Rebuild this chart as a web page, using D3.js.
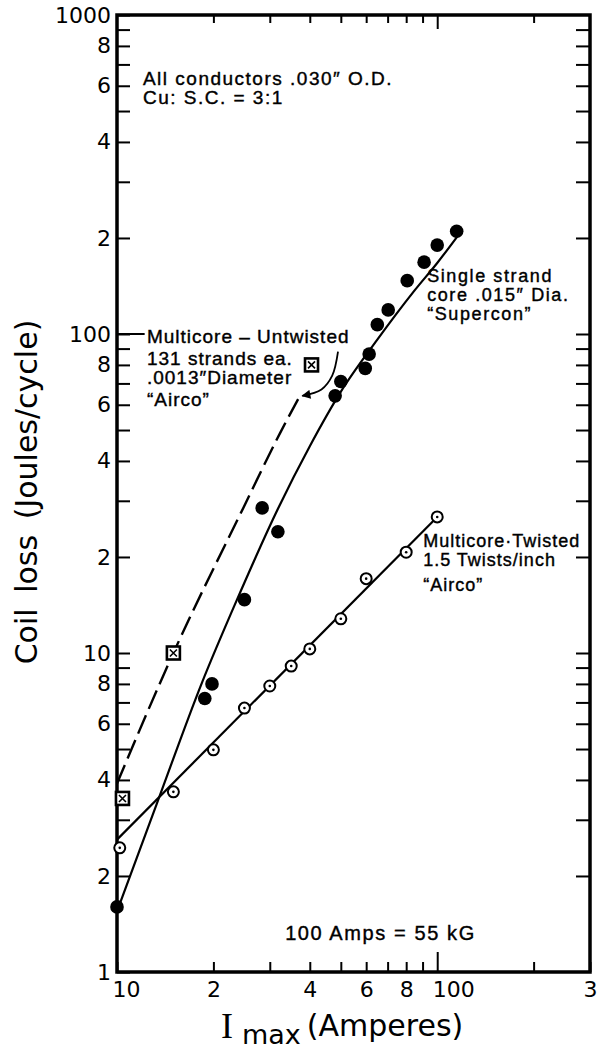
<!DOCTYPE html>
<html>
<head>
<meta charset="utf-8">
<script src="https://cdn.jsdelivr.net/npm/d3@7"></script>
<style>
  body { margin: 0; background: #fff; }
  svg { display: block; }
</style>
</head>
<body>
<svg id="chart"></svg>
<script>
// Single strand "Supercon" (filled dots)
const superconI    = [10, 18.8, 19.8, 25, 28.4, 31.8, 48, 50, 59.6, 61.3, 65, 70.3, 80.6, 91, 100, 115];
const superconLoss = [1.6, 7.2, 8.0, 14.7, 28.5, 24, 64, 71, 78, 86.5, 107, 119, 147, 168, 190, 210];
// hand drawn curve through the Supercon dots
const superconFitI    = [10, 13.3, 18.4, 23.7, 31.9, 40, 49.8, 65, 85, 100, 118];
const superconFitLoss = [1.55, 3.36, 8.05, 14.7, 28.5, 44.5, 65.5, 96, 137, 167, 208];

// Multicore twisted "Airco" (open dots)
const twistedI    = [10.2, 15, 20, 25, 30, 35, 40, 50, 60, 80, 100];
const twistedLoss = [2.45, 3.67, 4.97, 6.72, 7.88, 9.1, 10.3, 12.8, 17.1, 20.7, 26.7];
const twistedFitI    = [10, 100];
const twistedFitLoss = [2.6, 26.7];

// Multicore untwisted "Airco" (crossed squares, dashed curve)
const untwistedI    = [10.4, 15, 40.5];
const untwistedLoss = [3.5, 10, 80];
const untwistedFitI    = [10, 15, 24.8, 32.3, 37.1];
const untwistedFitLoss = [3.9, 10, 28.5, 48.9, 63.5];

// axis ticks and labels
const yTickValues = [1,2,3,4,5,6,7,8,9,10,20,30,40,50,60,70,80,90,100,200,300,400,500,600,700,800,900,1000];
const yLabelValues = [1,2,4,6,8,10,20,40,60,80,100,200,400,600,800,1000];
const yLabelText   = ["1","2","4","6","8","10","2","4","6","8","100","2","4","6","8","1000"];
const xTickValues = [10,20,30,40,50,60,70,80,90,100,200,300];
const xLabelValues = [10,20,40,60,80,100,300];
const xLabelText   = ["10","2","4","6","8","100","3"];

const width = 598, height = 1055;

const svg = d3.select("#chart")
  .attr("width", width)
  .attr("height", height);

svg.append("rect").attr("width", width).attr("height", height).attr("fill", "#fff");

// log-log scales
const x = d3.scaleLog().domain([10, 300]).range([117, 590]);
const y = d3.scaleLog().domain([1, 1000]).range([972, 15]);

const labelFont = "DejaVu Sans";
const noteFont = "Liberation Sans";

// left axis with labels, ticks pointing inwards
const yAxis = d3.axisLeft(y)
  .tickValues(yTickValues)
  .tickSizeInner(-13)
  .tickSizeOuter(0)
  .tickPadding(6)
  .tickFormat(d => {
    const i = yLabelValues.indexOf(d);
    return i < 0 ? "" : yLabelText[i];
  });

const gy = svg.append("g")
  .attr("transform", `translate(${x(10)},0)`)
  .call(yAxis);
gy.select(".domain").remove();
gy.selectAll("line").attr("stroke", "#000").attr("stroke-width", 2);
gy.selectAll("text")
  .attr("font-family", labelFont)
  .attr("font-size", 22)
  .attr("fill", "#000");

// right axis, ticks only
const gyr = svg.append("g")
  .attr("transform", `translate(${x(300)},0)`)
  .call(d3.axisRight(y).tickValues(yTickValues.slice(1, -1)).tickSizeInner(-14).tickSizeOuter(0).tickFormat(""));
gyr.select(".domain").remove();
gyr.selectAll("line").attr("stroke", "#000").attr("stroke-width", 2);

// bottom axis
const xAxis = d3.axisBottom(x)
  .tickValues(xTickValues)
  .tickSizeInner(-10)
  .tickSizeOuter(0)
  .tickPadding(9)
  .tickFormat(d => {
    const i = xLabelValues.indexOf(d);
    return i < 0 ? "" : xLabelText[i];
  });

const gx = svg.append("g")
  .attr("transform", `translate(0,${y(1)})`)
  .call(xAxis);
gx.select(".domain").remove();
gx.selectAll("line")
  .attr("stroke", "#000")
  .attr("stroke-width", 2)
  .attr("y2", d => d === 100 ? -20 : -10);
gx.selectAll("text")
  .attr("font-family", labelFont)
  .attr("font-size", 22)
  .attr("fill", "#000")
  .attr("dx", d => d === 10 ? 9 : d === 100 ? 16 : 0);

// top axis, ticks only
const gxt = svg.append("g")
  .attr("transform", `translate(0,${y(1000)})`)
  .call(d3.axisTop(x).tickValues(xTickValues.slice(1, -1)).tickSizeOuter(0).tickFormat(""));
gxt.select(".domain").remove();
gxt.selectAll("line")
  .attr("stroke", "#000")
  .attr("stroke-width", 2)
  .attr("y2", d => d === 100 ? 14 : 8);

// frame
svg.append("rect")
  .attr("x", x(10))
  .attr("y", y(1000))
  .attr("width", x(300) - x(10))
  .attr("height", y(1) - y(1000))
  .attr("fill", "none")
  .attr("stroke", "#000")
  .attr("stroke-width", 3.5);

// fitted curves
const line = d3.line()
  .x(d => x(d[0]))
  .y(d => y(d[1]))
  .curve(d3.curveMonotoneX);

svg.append("path")
  .datum(d3.zip(superconFitI, superconFitLoss))
  .attr("d", line)
  .attr("fill", "none")
  .attr("stroke", "#000")
  .attr("stroke-width", 2.2);

svg.append("path")
  .datum(d3.zip(twistedFitI, twistedFitLoss))
  .attr("d", line)
  .attr("fill", "none")
  .attr("stroke", "#000")
  .attr("stroke-width", 2.2);

svg.append("path")
  .datum(d3.zip(untwistedFitI, untwistedFitLoss))
  .attr("d", line)
  .attr("fill", "none")
  .attr("stroke", "#000")
  .attr("stroke-width", 2.4)
  .attr("stroke-dasharray", "20,7");

// Supercon dots
svg.selectAll(".supercon")
  .data(d3.zip(superconI, superconLoss))
  .enter()
  .append("circle")
  .attr("class", "supercon")
  .attr("cx", d => x(d[0]))
  .attr("cy", d => y(d[1]))
  .attr("r", 6.8)
  .attr("fill", "#000");

// twisted open dots with centre point
const tw = svg.selectAll(".twisted")
  .data(d3.zip(twistedI, twistedLoss))
  .enter()
  .append("g")
  .attr("class", "twisted")
  .attr("transform", d => `translate(${x(d[0])},${y(d[1])})`);
tw.append("circle").attr("r", 5.5).attr("fill", "#fff").attr("stroke", "#000").attr("stroke-width", 2);
tw.append("circle").attr("r", 1.3).attr("fill", "#000");

// untwisted crossed squares
const sq = svg.selectAll(".untwisted")
  .data(d3.zip(untwistedI, untwistedLoss))
  .enter()
  .append("g")
  .attr("class", "untwisted")
  .attr("transform", d => `translate(${x(d[0])},${y(d[1])})`);
sq.append("rect")
  .attr("x", -6.5).attr("y", -6.5).attr("width", 13).attr("height", 13)
  .attr("fill", "#fff").attr("stroke", "#000").attr("stroke-width", 2.6);
sq.append("path")
  .attr("d", "M-3.5,-3.5L3.5,3.5M3.5,-3.5L-3.5,3.5")
  .attr("stroke", "#000").attr("stroke-width", 1.6);

// text blocks; offsets are the baseline steps below the first line
function note(xv, yv, lines, offsets, size, spacing) {
  lines.forEach((s, i) => {
    svg.append("text")
      .attr("x", x(xv))
      .attr("y", y(yv) + offsets[i])
      .attr("font-family", noteFont)
      .attr("font-size", size)
      .attr("letter-spacing", spacing)
      .attr("fill", "#000")
      .attr("stroke", "#000")
      .attr("stroke-width", 0.4)
      .text(s);
  });
}

note(12.05, 605, ["All conductors .030\u2033 O.D.", "Cu: S.C. = 3:1"], [0, 19], 19, 1.5);
note(12.4, 94, ["Multicore \u2013 Untwisted", "131 strands ea.", ".0013\u2033Diameter", "\u201CAirco\u201D"], [0, 22, 41, 63], 19, 1.0);
note(93, 146, ["Single strand", "core .015\u2033 Dia.", "\u201CSupercon\u201D"], [0, 19, 38], 18, 1.6);
note(90.4, 21.5, ["Multicore\u00B7Twisted", "1.5 Twists/inch", "\u201CAirco\u201D"], [0, 19, 44], 18, 1.0);
note(33.5, 1.26, ["100 Amps = 55 kG"], [0], 20, 1.6);

// leader from the axis to the untwisted label
svg.append("line")
  .attr("x1", x(10)).attr("x2", x(12.2))
  .attr("y1", y(100)).attr("y2", y(100))
  .attr("stroke", "#000").attr("stroke-width", 2);

// curved arrow pointing at the dashed curve
svg.append("defs").append("marker")
  .attr("id", "head")
  .attr("viewBox", "0 0 10 10")
  .attr("refX", 9).attr("refY", 5)
  .attr("markerWidth", 11).attr("markerHeight", 9)
  .attr("markerUnits", "userSpaceOnUse")
  .attr("orient", "auto")
  .append("path")
  .attr("d", "M0,0L10,5L0,10z")
  .attr("fill", "#000");

svg.append("path")
  .datum([[49, 88], [47, 74], [43.5, 67], [37.9, 64]])
  .attr("d", d3.line().x(d => x(d[0])).y(d => y(d[1])).curve(d3.curveCatmullRom))
  .attr("fill", "none")
  .attr("stroke", "#000")
  .attr("stroke-width", 1.8)
  .attr("marker-end", "url(#head)");

// y axis title
svg.append("text")
  .attr("transform", `translate(37,492) rotate(-90)`)
  .attr("text-anchor", "middle")
  .attr("font-family", labelFont)
  .attr("font-size", 30)
  .attr("word-spacing", 6)
  .attr("fill", "#000")
  .text("Coil loss (Joules/cycle)");

// x axis title: I with subscript max
const xt = svg.append("text")
  .attr("x", 221)
  .attr("y", 1038)
  .attr("fill", "#000");
xt.append("tspan").attr("font-family", "Liberation Serif").attr("font-size", 36).text("I");
xt.append("tspan").attr("font-family", labelFont).attr("font-size", 27).attr("dx", 9).attr("dy", 6).text("max");
xt.append("tspan").attr("font-family", labelFont).attr("font-size", 30).attr("dx", 6).attr("dy", -8).text("(Amperes)");
</script>
</body>
</html>
